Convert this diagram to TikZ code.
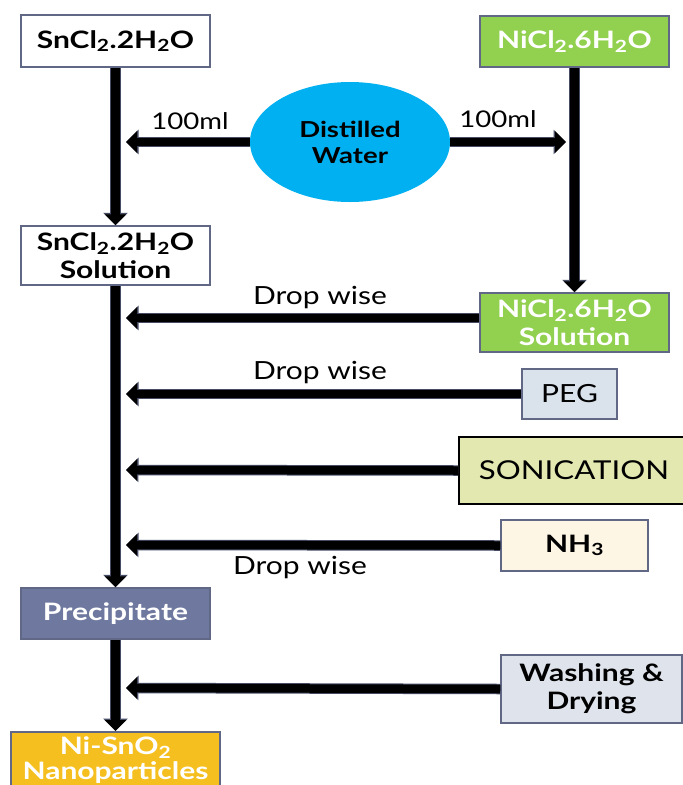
\documentclass[tikz,border=0pt]{standalone}
\usepackage{fontspec}
\setmainfont{Lato}
\newfontfamily\widereg{Lato}[FakeStretch=1.2]
\newfontfamily\widebold{Lato}[FakeStretch=1.25]
\usetikzlibrary{arrows.meta,shapes.geometric}

\definecolor{edgeslate}{RGB}{96,104,134}
\definecolor{shaftedge}{RGB}{70,76,100}
\definecolor{leafgreen}{RGB}{146,208,80}
\definecolor{skyblue}{RGB}{0,176,240}
\definecolor{pegfill}{RGB}{218,227,236}
\definecolor{sonfill}{RGB}{227,231,176}
\definecolor{nhfill}{RGB}{254,246,228}
\definecolor{precfill}{RGB}{111,121,160}
\definecolor{washfill}{RGB}{223,227,235}
\definecolor{goldfill}{RGB}{245,192,31}

\newcommand\dn[1]{\textsubscript{#1}}

\tikzset{
  box/.style={rectangle, draw=edgeslate, line width=1.5pt, inner sep=0pt, align=center},
  boldtxt/.style={font=\fontsize{24}{28}\selectfont\widebold\bfseries},
  plaintxt/.style={font=\fontsize{25}{28}\selectfont\widereg},
  flow/.style={line width=8.5pt, black,
    -{Triangle[width=21pt,length=11pt]},
    preaction={draw=shaftedge, line width=10.5pt, -{Triangle[width=24pt,length=12.5pt]}}},
  lbl/.style={font=\fontsize{25}{28}\selectfont\widereg, inner sep=0pt}
}

\begin{document}
\begin{tikzpicture}[x=1pt, y=-1pt]
  \clip (0,0) rectangle (683,785);
  \fill[white] (0,0) rectangle (683,785);

  % source boxes
  \node[box, boldtxt, fill=white, minimum width=189pt, minimum height=52pt] (sn) at (115.5,41) {SnCl\dn{2}.2H\dn{2}O};
  \node[box, boldtxt, fill=leafgreen, text=white, minimum width=189pt, minimum height=51pt] (ni) at (574.5,41.5) {NiCl\dn{2}.6H\dn{2}O};

  % distilled water
  \node[ellipse, fill=skyblue, minimum width=200pt, minimum height=120pt, inner sep=0pt, align=center,
        font=\fontsize{22}{26}\selectfont\widebold\bfseries] (water) at (350,142) {Distilled\\Water};

  % solutions
  \node[box, boldtxt, fill=white, minimum width=189pt, minimum height=59pt] (snsol) at (115.5,255.5) {SnCl\dn{2}.2H\dn{2}O\\Solution};
  \node[box, boldtxt, fill=leafgreen, text=white, minimum width=189pt, minimum height=59pt] (nisol) at (574.5,322.5) {NiCl\dn{2}.6H\dn{2}O\\Solution};

  % additives and steps
  \node[box, plaintxt, fill=pegfill, minimum width=95pt, minimum height=50pt] (peg) at (569.5,394) {PEG};
  \node[box, plaintxt, fill=sonfill, draw=black, minimum width=230pt, minimum height=67pt,
        font=\fontsize{26}{28}\selectfont\widereg] (son) at (574,470.5) {SONICATION};
  \node[box, boldtxt, fill=nhfill, minimum width=147pt, minimum height=51pt] (nh) at (574.5,545.5) {NH\dn{3}};
  \node[box, boldtxt, fill=precfill, text=white, minimum width=189pt, minimum height=51pt] (prec) at (115.5,613.5) {Precipitate};
  \node[box, boldtxt, fill=washfill, minimum width=181pt, minimum height=68pt] (wash) at (591.5,689) {Washing \&\\Drying};
  \node[box, fill=goldfill, text=white, minimum width=209pt, minimum height=57pt, anchor=north,
        font=\fontsize{24}{25}\selectfont\widebold\bfseries] (nano) at (115.5,731) {Ni-SnO\dn{2}\\Nanoparticles};

  % arrow ends on the trunks
  \coordinate (wl) at (126,142);
  \coordinate (wr) at (566,142);
  \coordinate (d1) at (126,318);
  \coordinate (d2) at (126,394);
  \coordinate (d3) at (126,470);
  \coordinate (d4) at (126,545);
  \coordinate (d5) at (126,688);

  % connectors
  \draw[flow] (sn.south) -- (snsol.north);
  \draw[flow] (ni.south) -- (nisol.north);
  \draw[flow] (water.west) -- (wl);
  \draw[flow] (water.east) -- (wr);
  \draw[flow] (snsol.south) -- (prec.north);
  \draw[flow] (prec.south) -- (nano.north);
  \draw[flow] ([yshift=4.5pt]nisol.west) -- (d1);
  \draw[flow] (peg.west) -- (d2);
  \draw[flow] (son.west) -- (d3);
  \draw[flow] (nh.west) -- (d4);
  \draw[flow] (wash.west) -- (d5);

  % labels
  \node[lbl, font=\fontsize{23}{28}\selectfont\widereg] (ml1) at (190,121) {100ml};
  \node[lbl, font=\fontsize{23}{28}\selectfont\widereg] (ml2) at (498,119) {100ml};
  \node[lbl] (dw1) at (320,298) {Drop wise};
  \node[lbl] (dw2) at (320,373) {Drop wise};
  \node[lbl] (dw3) at (300,568) {Drop wise};
\end{tikzpicture}
\end{document}
